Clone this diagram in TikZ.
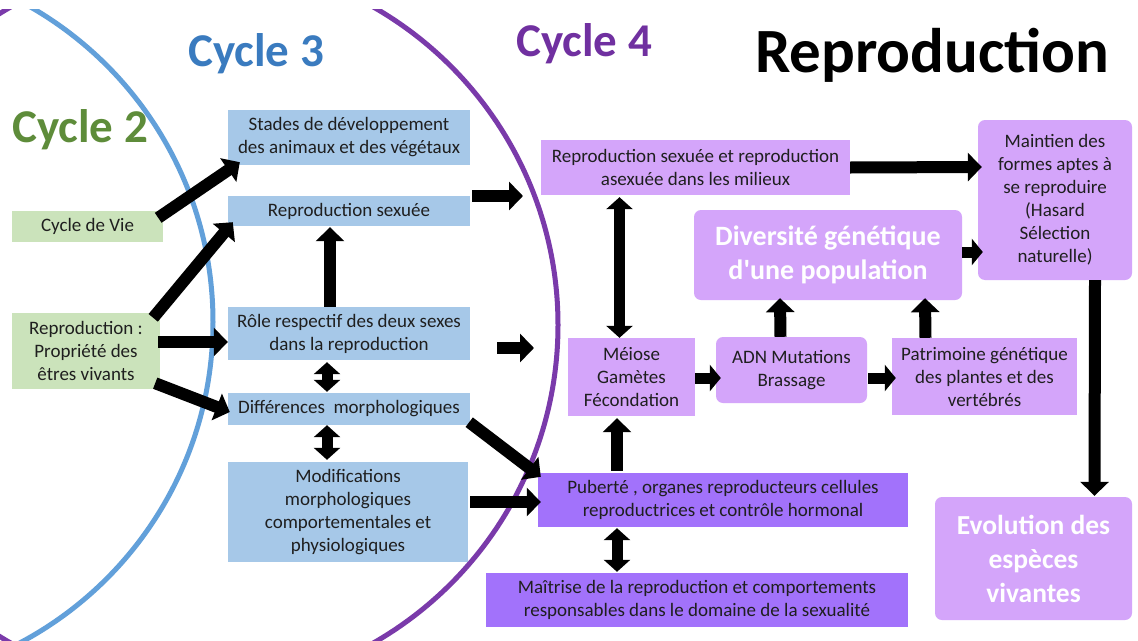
\documentclass[tikz,border=0pt]{standalone}
\usepackage{fontspec}
\setmainfont{Carlito}
\usetikzlibrary{arrows.meta,calc}
\definecolor{cblue}{HTML}{A6C8E8}
\definecolor{cgreen}{HTML}{CBE3BB}
\definecolor{clpurple}{HTML}{D4A5FA}
\definecolor{cdpurple}{HTML}{A272FB}
\definecolor{circblue}{HTML}{62A0DA}
\definecolor{circpurple}{HTML}{7A3AAA}
\definecolor{tgreen}{HTML}{5E8C3A}
\definecolor{tblue}{HTML}{3A7BBF}
\definecolor{tpurple}{HTML}{7030A0}
\begin{document}
\begin{tikzpicture}[x=1pt,y=-1pt,
  box/.style={rectangle, inner sep=0pt, align=center, font=\fontsize{19}{23}\selectfont, text=black!88},
  bbox/.style={box, fill=cblue},
  gbox/.style={box, fill=cgreen},
  pbox/.style={box, fill=clpurple},
  dbox/.style={box, fill=cdpurple},
  rbox/.style={box, fill=clpurple, rounded corners=7pt},
  bigtxt/.style={font=\fontsize{28}{34}\selectfont\bfseries, text=white},
  title/.style={anchor=base west, inner sep=0pt, font=\fontsize{47}{50}\selectfont\bfseries},
  barrow/.style={line width=12pt, draw=black, -{Triangle[length=14pt,width=28pt]}},
  sarrow/.style={line width=11pt, draw=black, -{Triangle[length=11pt,width=26pt]}},
  darrow/.style={line width=11pt, draw=black, {Triangle[length=12pt,width=26pt]}-{Triangle[length=12pt,width=26pt]}}
]
\useasboundingbox (0,0) rectangle (1138,640);
\fill[white] (0,0) rectangle (1138,640);
\begin{scope}
  \clip (0,9) rectangle (1138,640);
  \draw[circblue, line width=5pt] (-150,322) circle[radius=363pt];
  \draw[circpurple, line width=5pt] (192,325) circle[radius=366pt];
\end{scope}

% titles
\node[title, text=tgreen] (t2) at (12,142) {Cycle 2};
\node[title, text=tblue] (t3) at (188,66) {Cycle 3};
\node[title, text=tpurple] (t4) at (516,56) {Cycle 4};
\node[title, text=black, font=\fontsize{63}{66}\selectfont\bfseries] (t0) at (755,72) {Reproduction};

% cycle 2
\node[gbox, minimum width=151, minimum height=31] (cvie) at (87.5,226.5) {Cycle de Vie};
\node[gbox, minimum width=148, minimum height=76] (prop) at (86,351) {Reproduction :\\Propriété des\\êtres vivants};

% cycle 3
\node[bbox, minimum width=242, minimum height=55] (stades) at (349,137.5) {Stades de développement\\des animaux et des végétaux};
\node[bbox, minimum width=242, minimum height=30] (rsex) at (349,211) {Reproduction sexuée};
\node[bbox, minimum width=242, minimum height=53] (role) at (349,333.5) {Rôle respectif des deux sexes\\dans la reproduction};
\node[bbox, minimum width=242, minimum height=32] (diff) at (349,409) {Différences\ \ morphologiques};
\node[bbox, minimum width=240, minimum height=100] (modif) at (348,512) {Modifications\\morphologiques\\comportementales et\\physiologiques};

% cycle 4
\node[pbox, minimum width=309, minimum height=55] (rasex) at (695.5,167.5) {Reproduction sexuée et reproduction\\asexuée dans les milieux};
\node[rbox, minimum width=268, minimum height=90, bigtxt] (divers) at (828,255) {Diversité génétique\\d\textquotesingle une population};
\node[rbox, minimum width=154, minimum height=160] (maintien) at (1055,200) {Maintien des\\formes aptes à\\se reproduire\\(Hasard\\Sélection\\naturelle)};
\node[pbox, minimum width=127, minimum height=78] (meiose) at (631.5,377) {Méiose\\Gamètes\\Fécondation};
\node[rbox, minimum width=151, minimum height=66] (adn) at (791.5,370) {ADN Mutations\\Brassage};
\node[pbox, minimum width=185, minimum height=77] (patri) at (984.5,376.5) {Patrimoine génétique\\des plantes et des\\vertébrés};
\node[dbox, minimum width=370, minimum height=54] (puberte) at (723,500) {Puberté , organes reproducteurs cellules\\reproductrices et contrôle hormonal};
\node[dbox, minimum width=422, minimum height=54] (maitrise) at (697,600) {Maîtrise de la reproduction et comportements\\responsables dans le domaine de la sexualité};
\node[rbox, minimum width=197, minimum height=123, font=\fontsize{27.5}{34}\selectfont\bfseries, text=white] (evol) at (1033.5,558.5) {Evolution des\\espèces\\vivantes};

% free ends
\coordinate (c4a) at (523,196);
\coordinate (c4b) at (534,348);

% arrows
\draw[barrow] ($(cvie.north east)+(-5,7)$) -- ($(stades.south west)+(12,-3)$);
\draw[barrow] ($(prop.north east)+(-7,5)$) -- ($(rsex.south west)+(5,-4)$);
\draw[barrow] ($(prop.east)+(-2,-9)$) -- ($(role.west)+(0,8.5)$);
\draw[barrow] ($(prop.south east)+(-5,-6)$) -- ($(diff.west)+(2,3)$);
\draw[barrow] ($(role.north)+(-19,0)$) -- ($(rsex.south)+(-19,1)$);
\draw[darrow] ($(role.south)+(-22,2)$) -- ($(diff.north)+(-22,-1)$);
\draw[darrow] ($(diff.south)+(-22,0)$) -- ($(modif.north)+(-21,-2)$);
\draw[barrow] ($(rsex.east)+(2,-15)$) -- (c4a);
\draw[barrow] ($(role.east)+(27,14.5)$) -- (c4b);
\draw[barrow] ($(diff.south east)+(-1,-3)$) -- ($(puberte.north west)+(3,4)$);
\draw[barrow] ($(modif.east)+(2,-10)$) -- ($(puberte.west)+(3,2)$);
\draw[barrow] (rasex.east) -- ($(maintien.west)+(4,-33)$);
\draw[darrow] ($(rasex.south)+(-76,2)$) -- ($(meiose.north)+(-12,0)$);
\draw[barrow] ($(puberte.north)+(-106,-2)$) -- ($(meiose.south)+(-14.5,2)$);
\draw[darrow] ($(puberte.south)+(-106,1)$) -- ($(maitrise.north)+(-80,-1)$);
\draw[sarrow] ($(meiose.east)+(0,1)$) -- ($(adn.west)+(5,8)$);
\draw[sarrow] ($(adn.east)+(1,8)$) -- ($(patri.west)+(4,1.5)$);
\draw[barrow] ($(adn.north)+(-11,0)$) -- ($(divers.south)+(-48,-2)$);
\draw[barrow] ($(patri.north)+(-59,0)$) -- ($(divers.south)+(97,-2)$);
\draw[sarrow] ($(divers.east)+(0,-3)$) -- ($(maintien.west)+(5,52)$);
\draw[barrow] ($(maintien.south)+(40,0)$) -- ($(evol.north)+(61,-1)$);
\end{tikzpicture}
\end{document}
